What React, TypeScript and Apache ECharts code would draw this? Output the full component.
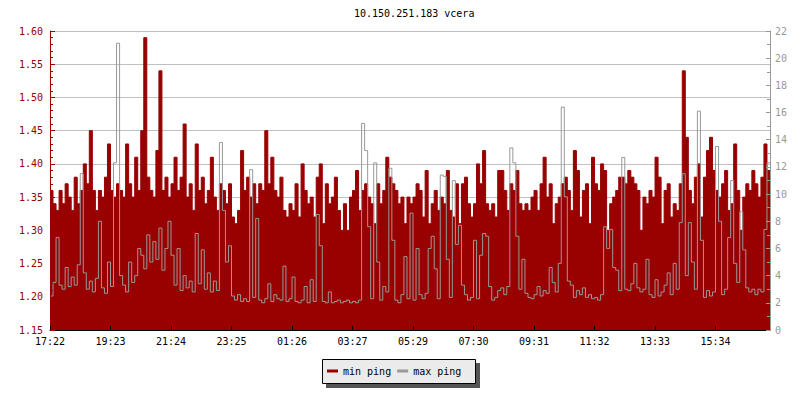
import React, { useEffect, useRef } from "react";
import * as echarts from "echarts";

const titleText = "10.150.251.183 vcera";
const tickLabels = ["17:22", "19:23", "21:24", "23:25", "01:26", "03:27", "05:29", "07:30", "09:31", "11:32", "13:33", "15:34"];
const seriesNames = ["min ping", "max ping"];

// min ping (left axis), one value per ~6 minutes
const minPing = [
  1.36, 1.34, 1.33, 1.36, 1.34, 1.37, 1.35, 1.33, 1.38, 1.34, 1.36, 1.40, 1.37, 1.45, 1.36, 1.33, 1.36, 1.35, 1.38, 1.43,
  1.36, 1.35, 1.37, 1.36, 1.35, 1.43, 1.37, 1.35, 1.41, 1.36, 1.45, 1.59, 1.38, 1.36, 1.35, 1.42, 1.54, 1.36, 1.38, 1.35,
  1.37, 1.41, 1.36, 1.38, 1.46, 1.35, 1.37, 1.33, 1.43, 1.36, 1.38, 1.34, 1.36, 1.41, 1.35, 1.33, 1.37, 1.36, 1.34, 1.37,
  1.32, 1.31, 1.33, 1.42, 1.36, 1.38, 1.35, 1.37, 1.34, 1.37, 1.36, 1.45, 1.37, 1.41, 1.36, 1.35, 1.38, 1.33, 1.32, 1.34,
  1.33, 1.37, 1.32, 1.40, 1.36, 1.34, 1.35, 1.32, 1.38, 1.40, 1.31, 1.37, 1.34, 1.35, 1.38, 1.33, 1.30, 1.34, 1.30, 1.35,
  1.36, 1.39, 1.33, 1.36, 1.37, 1.35, 1.34, 1.31, 1.37, 1.34, 1.36, 1.41, 1.38, 1.37, 1.36, 1.34, 1.35, 1.31, 1.35, 1.34,
  1.35, 1.37, 1.36, 1.32, 1.39, 1.31, 1.34, 1.36, 1.33, 1.35, 1.34, 1.39, 1.33, 1.32, 1.37, 1.31, 1.37, 1.38, 1.34, 1.32,
  1.34, 1.40, 1.37, 1.42, 1.34, 1.33, 1.34, 1.32, 1.39, 1.39, 1.36, 1.33, 1.37, 1.36, 1.39, 1.34, 1.33, 1.34, 1.33, 1.35,
  1.36, 1.33, 1.37, 1.41, 1.35, 1.37, 1.31, 1.34, 1.35, 1.37, 1.38, 1.36, 1.33, 1.42, 1.39, 1.32, 1.36, 1.37, 1.31, 1.41,
  1.37, 1.36, 1.40, 1.39, 1.30, 1.34, 1.35, 1.36, 1.38, 1.38, 1.37, 1.39, 1.38, 1.37, 1.36, 1.30, 1.35, 1.34, 1.36, 1.35,
  1.41, 1.38, 1.31, 1.36, 1.37, 1.32, 1.34, 1.33, 1.37, 1.54, 1.44, 1.36, 1.34, 1.38, 1.40, 1.32, 1.38, 1.42, 1.44, 1.39,
  1.36, 1.35, 1.37, 1.39, 1.33, 1.34, 1.43, 1.36, 1.30, 1.35, 1.37, 1.36, 1.39, 1.37, 1.35, 1.38, 1.43, 1.39,
];

// max ping (right axis)
const maxPing = [
  2.5, 3.5, 6.8, 3.3, 3.0, 4.6, 3.2, 3.9, 3.3, 4.8, 11.5, 4.2, 3.0, 3.6, 2.8, 3.8, 8.0, 3.1, 2.7, 5.0,
  3.2, 12.3, 21.1, 4.0, 3.3, 2.8, 5.0, 3.5, 4.0, 6.0, 5.5, 4.5, 7.0, 5.0, 6.5, 5.2, 7.5, 4.4, 6.0, 8.0,
  5.5, 3.3, 6.0, 2.9, 4.0, 3.1, 3.6, 2.8, 7.1, 3.4, 5.9, 3.0, 4.2, 2.8, 3.6, 2.9, 13.8, 8.8, 5.0, 6.2,
  2.5, 2.2, 2.6, 2.1, 2.3, 2.1, 11.8, 2.4, 8.2, 2.2, 2.0, 2.3, 3.4, 2.1, 2.6, 2.3, 2.2, 4.7, 2.1, 2.3,
  3.9, 2.1, 2.0, 2.2, 3.2, 2.0, 3.7, 2.1, 8.5, 6.2, 2.1, 2.0, 2.8, 2.0, 2.1, 2.2, 2.0, 2.1, 2.2, 2.0,
  2.1, 2.0, 2.2, 15.2, 13.2, 7.6, 2.3, 12.3, 5.0, 2.2, 3.2, 2.8, 11.9, 6.6, 2.2, 2.0, 2.6, 5.4, 2.3, 8.6,
  2.2, 6.0, 2.6, 2.3, 2.7, 6.0, 6.9, 4.5, 2.3, 11.4, 11.3, 5.2, 2.4, 11.0, 6.3, 7.7, 3.3, 2.6, 2.2, 2.4,
  6.6, 2.3, 5.5, 7.1, 6.9, 3.2, 2.2, 2.4, 2.9, 3.1, 2.6, 3.2, 13.4, 12.3, 6.9, 3.0, 5.2, 2.7, 2.4, 2.3,
  2.6, 3.2, 2.5, 2.9, 2.7, 4.6, 3.5, 2.8, 4.9, 16.4, 9.8, 3.6, 3.3, 2.4, 2.9, 2.6, 3.1, 2.4, 2.6, 2.3,
  2.4, 2.2, 2.6, 7.6, 6.0, 7.4, 4.6, 4.4, 2.9, 12.7, 3.0, 2.9, 3.4, 4.9, 3.1, 2.8, 3.0, 5.2, 2.6, 2.4,
  3.7, 2.5, 2.8, 3.3, 4.2, 2.6, 4.9, 3.0, 7.9, 11.5, 4.0, 7.9, 5.0, 3.0, 16.1, 6.6, 2.4, 2.9, 2.5, 2.8,
  13.5, 8.0, 2.6, 3.0, 6.8, 11.0, 4.9, 3.5, 8.7, 5.9, 3.1, 2.8, 3.0, 2.6, 3.0, 2.8, 7.4, 12.3,
];

const POINTS_PER_TICK = 20;
const FONT = "'DejaVu Sans Mono', monospace";
const RED = "#990000";
const GRAY = "#999999";

function toSteps(values: number[]) {
  const d = values.map((v, i) => [i, v]);
  d.push([values.length, values[values.length - 1]]);
  return d;
}

export default function App() {
  const ref = useRef<HTMLDivElement>(null);
  useEffect(() => {
    const chart = echarts.init(ref.current!, null, { renderer: "svg" });
    const N = minPing.length;
    chart.setOption({
      animation: false,
      backgroundColor: "#ffffff",
      title: {
        text: titleText,
        left: 349,
        top: 3,
        textStyle: { fontFamily: FONT, fontSize: 10, fontWeight: "normal", color: "#000" },
      },
      grid: { left: 50, right: 30, top: 31, bottom: 70, containLabel: false },
      graphic: [
        { type: "rect", z: 0, shape: { x: 326, y: 363, width: 154, height: 25 }, style: { fill: "#555555" } },
        { type: "rect", z: 1, shape: { x: 322.5, y: 359.5, width: 153, height: 24 }, style: { fill: "#ebebeb", stroke: "#000", lineWidth: 1 } },
      ],
      legend: {
        data: seriesNames,
        left: 327,
        top: 366,
        padding: 0,
        itemGap: 6,
        itemWidth: 11,
        itemHeight: 3,
        itemTextGap: 4,
        icon: "rect",
        z: 10,
        textStyle: { fontFamily: FONT, fontSize: 10, color: "#000" },
      },
      xAxis: {
        type: "value",
        min: 0,
        max: N,
        interval: POINTS_PER_TICK,
        z: 10,
        axisLine: { show: true, lineStyle: { color: "#000", width: 1 } },
        axisTick: { show: true, inside: true, length: 4, lineStyle: { color: "#000" } },
        splitLine: { show: false },
        axisLabel: {
          showMaxLabel: false,
          margin: 6,
          fontFamily: FONT,
          fontSize: 10,
          color: "#000",
          formatter: (v: number) => {
            const k = Math.round(v / POINTS_PER_TICK);
            return Math.abs(v - k * POINTS_PER_TICK) < 1e-6 ? tickLabels[k] ?? "" : "";
          },
        },
      },
      yAxis: [
        {
          type: "value",
          position: "left",
          min: 1.15,
          max: 1.6,
          interval: 0.05,
          z: 0,
          axisLine: { show: false },
          axisTick: { show: false },
          axisLabel: { show: false },
          splitLine: { show: true, lineStyle: { color: "#c0c0c0", width: 1 } },
        },
        {
          type: "value",
          position: "right",
          min: 0,
          max: 22,
          interval: 2,
          z: 10,
          axisLine: { show: true, lineStyle: { color: GRAY, width: 1 } },
          axisTick: { show: true, inside: true, length: 4, lineStyle: { color: GRAY } },
          minorTick: { show: true, splitNumber: 2, length: 3, lineStyle: { color: GRAY } },
          splitLine: { show: false },
          axisLabel: { margin: 5, fontFamily: FONT, fontSize: 10, color: GRAY },
        },
        {
          type: "value",
          position: "left",
          min: 1.15,
          max: 1.6,
          interval: 0.05,
          z: 10,
          axisLine: { show: true, lineStyle: { color: RED, width: 1 } },
          axisTick: { show: true, inside: true, length: 5, lineStyle: { color: RED } },
          minorTick: { show: true, splitNumber: 5, length: 3, lineStyle: { color: RED } },
          splitLine: { show: false },
          axisLabel: {
            margin: 7,
            fontFamily: FONT,
            fontSize: 10,
            color: RED,
            formatter: (v: number) => v.toFixed(2),
          },
        },
      ],
      series: [
        {
          name: seriesNames[0],
          type: "line",
          yAxisIndex: 0,
          step: "end",
          showSymbol: false,
          silent: true,
          color: RED,
          lineStyle: { color: RED, width: 1 },
          areaStyle: { color: RED, opacity: 1, origin: "start" },
          data: toSteps(minPing),
        },
        {
          name: seriesNames[1],
          type: "line",
          yAxisIndex: 1,
          step: "end",
          showSymbol: false,
          silent: true,
          color: GRAY,
          lineStyle: { color: GRAY, width: 1 },
          data: toSteps(maxPing),
        },
      ],
    });
    return () => chart.dispose();
  }, []);
  return (
    <div
      ref={ref}
      style={{ position: "absolute", left: 0, top: 0, width: 800, height: 400, background: "#fff" }}
    />
  );
}
